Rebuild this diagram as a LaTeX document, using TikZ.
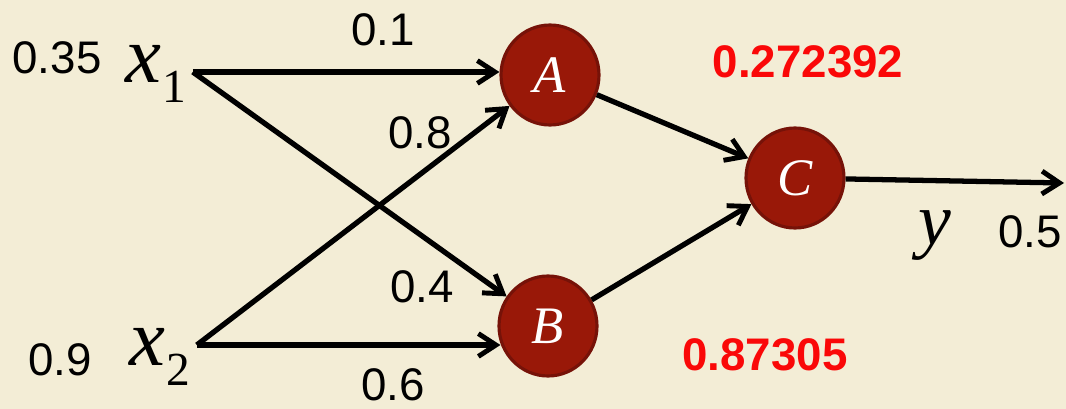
\documentclass[tikz,border=0pt]{standalone}
\usepackage{fontspec}
\setmainfont{Liberation Sans}
\newfontfamily\timesfam{Liberation Serif}
\usepackage{xcolor}
\usetikzlibrary{shapes.geometric, arrows.meta, positioning, calc}
\definecolor{paper}{RGB}{243,237,214}
\definecolor{neurofill}{RGB}{153,24,8}
\definecolor{neurodraw}{RGB}{118,18,8}
\definecolor{valred}{RGB}{250,8,8}
\newcommand{\invar}[1]{{\timesfam\itshape\fontsize{46}{50}\selectfont x}\kern1pt\raisebox{-11pt}{\timesfam\fontsize{27}{30}\selectfont #1}}
\tikzset{
  neuron/.style={ellipse,draw=neurodraw,line width=1.8pt,fill=neurofill,
    minimum width=1.96cm,minimum height=2.0cm,inner sep=0pt,text=white,
    font=\timesfam\itshape\fontsize{30}{34}\selectfont},
  wlabel/.style={inner sep=0pt,font=\fontsize{26}{30}\selectfont},
  outval/.style={inner sep=0pt,text=valred,font=\bfseries\fontsize{26}{30}\selectfont},
  varlabel/.style={inner sep=1pt},
  arrow/.style={-{Straight Barb[length=10pt,width=13pt,line width=2.8pt]},line width=3pt,draw=black}
}
\begin{document}
\begin{tikzpicture}[x=0.02cm,y=-0.02cm]
  \fill[paper] (0,0) rectangle (1066,409);
  \useasboundingbox (0,0) rectangle (1066,409);

  % inputs
  \node[varlabel] (x1) at (156,74) {\invar{1}};
  \node[varlabel] (x2) at (160,357) {\invar{2}};
  \node[wlabel] (v1) at (57,58) {0.35};
  \node[wlabel] (v2) at (60,360) {0.9};
  \coordinate (x1o) at ($(x1.east)+(4,-2)$);
  \coordinate (x2o) at ($(x2.east)+(4,-12)$);

  % neurons
  \node[neuron] (A) at (550,75) {A};
  \node[neuron] (B) at (548,326) {B};
  \node[neuron] (C) at (795,178) {C};
  \coordinate (yend) at (1064,183);

  % weights
  \node[wlabel] (w1) at (383,30) {0.1};
  \node[wlabel] (w2) at (420,133) {0.8};
  \node[wlabel] (w3) at (422,287) {0.4};
  \node[wlabel] (w4) at (393,385) {0.6};

  % results
  \node[outval] (oa) at (808,62) {0.272392};
  \node[outval] (ob) at (765,355) {0.87305};
  \node[varlabel, font=\timesfam\itshape\fontsize{42}{46}\selectfont] (y) at (935,236) {y};
  \node[wlabel] (yv) at (1030,232) {0.5};

  \draw[arrow] (x1o) -- (x1o -| A.west);
  \draw[arrow] (x1o) -- (B);
  \draw[arrow] (x2o) -- (A);
  \draw[arrow] (x2o) -- ($(x2o -| B.west)+(3,0)$);
  \draw[arrow] (A) -- (C);
  \draw[arrow] (B) -- (C);
  \draw[arrow] (C) -- (yend);
\end{tikzpicture}
\end{document}
